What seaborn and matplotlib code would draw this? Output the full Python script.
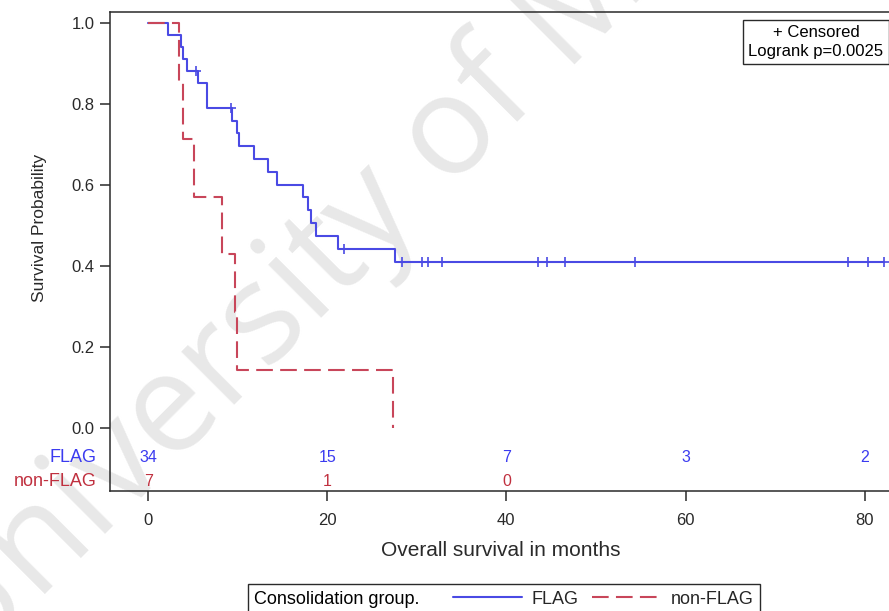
import matplotlib
matplotlib.use("Agg")
import matplotlib.pyplot as plt
import seaborn as sns
import pandas as pd
from matplotlib.patches import Rectangle
from matplotlib.lines import Line2D

# Kaplan-Meier step values per consolidation group
flag_time = [0, 2.2, 3.7, 3.95, 4.3, 5.6, 6.55, 9.35, 9.9, 10.1, 11.8, 13.4,
             14.4, 17.3, 17.8, 18.2, 18.8, 21.2, 27.6, 82.2]
flag_surv = [1.0, 0.971, 0.941, 0.912, 0.882, 0.852, 0.791, 0.759, 0.728,
             0.696, 0.665, 0.633, 0.601, 0.570, 0.538, 0.506, 0.475, 0.443,
             0.409, 0.409]

nonflag_time = [0, 3.5, 3.9, 5.1, 8.2, 9.65, 9.9, 27.3]
nonflag_surv = [1.0, 0.857, 0.714, 0.571, 0.429, 0.286, 0.143, 0.0]

# Censored observations (FLAG group)
flag_cens_time = [5.3, 9.3, 21.9, 28.3, 30.6, 31.3, 32.8, 43.5, 44.5, 46.6,
                  54.4, 78.1, 80.4, 82.2]
flag_cens_surv = [0.882, 0.791, 0.443, 0.409, 0.409, 0.409, 0.409, 0.409,
                  0.409, 0.409, 0.409, 0.409, 0.409, 0.409]

# Number at risk
risk_times = [0, 20, 40, 60, 80]
flag_at_risk = [34, 15, 7, 3, 2]
nonflag_at_risk = [7, 1, 0]

groups = ["FLAG", "non-FLAG"]
BLUE = "#4a4ae4"
RED = "#c8465a"
BLUE_TXT = "#3b3bf0"
RED_TXT = "#c0303f"
INK = "#2a2a2a"
DASH = (8, 3.5)
LW = 1.5

sns.set_theme(style="white")
plt.rcParams["font.family"] = ["Liberation Sans", "DejaVu Sans"]

curves = pd.DataFrame({
    "time": flag_time + nonflag_time,
    "surv": flag_surv + nonflag_surv,
    "group": [groups[0]] * len(flag_time) + [groups[1]] * len(nonflag_time),
})
cens = pd.DataFrame({"time": flag_cens_time, "surv": flag_cens_surv})

W, H = 889, 611
fig = plt.figure(figsize=(W / 100, H / 100), dpi=100)
fig.patch.set_facecolor("white")

ax_l, ax_r, ax_t, ax_b = 110, 892, 12, 491
ax = fig.add_axes([ax_l / W, 1 - ax_b / H, (ax_r - ax_l) / W, (ax_b - ax_t) / H])
ax.set_facecolor("none")

sns.lineplot(data=curves, x="time", y="surv", hue="group", style="group",
             palette={groups[0]: BLUE, groups[1]: RED},
             dashes={groups[0]: "", groups[1]: DASH},
             drawstyle="steps-post", estimator=None, linewidth=LW,
             legend=False, ax=ax)
sns.scatterplot(data=cens, x="time", y="surv", marker="+", s=60,
                color=BLUE, linewidth=1.2, legend=False, ax=ax, zorder=4)

# axis ranges: 8.95 px per month, 405 px per unit of probability
ax.set_xlim(-4.25, 83.05)
ax.set_ylim(-0.155, 1.027)
ax.set_yticks([0.0, 0.2, 0.4, 0.6, 0.8, 1.0])
ax.set_yticklabels(["0.0", "0.2", "0.4", "0.6", "0.8", "1.0"])
ax.set_xticks(risk_times)
ax.set_xticklabels([str(t) for t in risk_times])
ax.tick_params(axis="both", direction="out", length=7, width=1.1,
               color=INK, labelsize=12, labelcolor=INK, pad=4, left=True,
               bottom=True)
ax.tick_params(axis="x", pad=9)
for sp in ax.spines.values():
    sp.set_color(INK)
    sp.set_linewidth(1.1)

ax.set_xlabel("Overall survival in months", fontsize=15, color=INK, labelpad=9)
ax.set_ylabel("Survival Probability", fontsize=12.5, color=INK)
ax.yaxis.set_label_coords(-0.081, 0.55)

# number-at-risk rows inside the plot frame
row_y = {groups[0]: -0.073, groups[1]: -0.131}
for t, n in zip(risk_times, flag_at_risk):
    ax.text(t, row_y[groups[0]], str(n), ha="center", va="center",
            fontsize=11.5, color=BLUE_TXT)
for t, n in zip(risk_times, nonflag_at_risk):
    ax.text(t, row_y[groups[1]], str(n), ha="center", va="center",
            fontsize=11.5, color=RED_TXT)
ax.text(-5.75, row_y[groups[0]], groups[0], ha="right", va="center",
        fontsize=13, color=BLUE_TXT, clip_on=False)
ax.text(-5.75, row_y[groups[1]], groups[1], ha="right", va="center",
        fontsize=13, color=RED_TXT, clip_on=False)

# inset with censor key and test result
fig.text(816 / W, 1 - 42 / H, "+ Censored\nLogrank p=0.0025", ha="center",
         va="center", fontsize=12, color="black", linespacing=1.35,
         multialignment="center",
         bbox=dict(boxstyle="square,pad=0.3", facecolor="white",
                   edgecolor=INK, linewidth=1.0))

# group key at the bottom
fig.add_artist(Rectangle((248 / W, 1 - 614 / H), (760 - 248) / W, 30 / H,
                         transform=fig.transFigure, fill=False,
                         edgecolor=INK, linewidth=1.0))
fig.text(254 / W, 1 - 600 / H, "Consolidation group.", ha="left",
         va="center", fontsize=13, color="black")
handles = [Line2D([], [], color=BLUE, lw=LW),
           Line2D([], [], color=RED, lw=LW, dashes=DASH)]
fig.legend(handles, groups, loc="center left",
           bbox_to_anchor=(453 / W, 1 - 599 / H), ncol=2, frameon=False,
           fontsize=13, handlelength=3.8, handletextpad=0.55,
           columnspacing=0.75, borderpad=0, borderaxespad=0)

# watermark behind the plot
fig.text(-34 / W, 1 - 674 / H, "University of M", rotation=45,
         rotation_mode="anchor", ha="left", va="baseline", fontsize=100,
         color="#e8e8e8", family="Open Sans", zorder=-1)

fig.savefig("out.png", dpi=100, facecolor="white")
